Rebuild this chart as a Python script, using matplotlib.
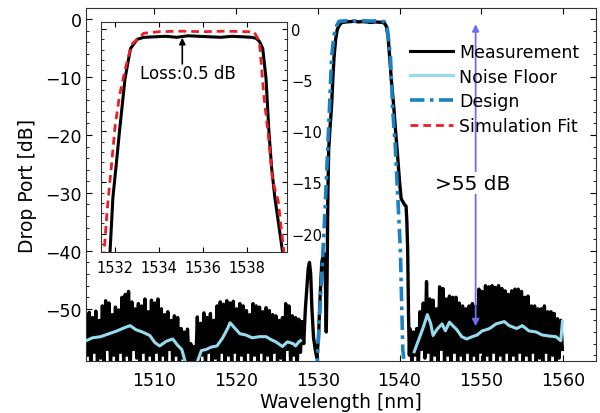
import numpy as np
import matplotlib
matplotlib.use("Agg")
import matplotlib.pyplot as plt
from matplotlib.ticker import MultipleLocator

# ---- main panel data ----
# noisy measurement, left side (sampled every 0.2 nm from 1501.7 nm)
meas_left_start = 1501.7
meas_left_db = [
    -51.0, -58.0, -50.6, -60.5, -51.5, -57.5, -50.4, -59.5, -52.0, -58.5,
    -49.5, -59.0, -48.6, -57.0, -49.0, -60.0, -51.0, -58.0, -49.7, -61.0,
    -50.2, -57.5, -48.0, -59.0, -47.5, -58.0, -47.0, -60.5, -48.8, -57.0,
    -50.0, -58.5, -49.1, -61.0, -49.5, -57.5, -48.3, -59.5, -50.5, -58.0,
    -48.5, -60.0, -49.0, -57.5, -48.3, -59.0, -50.0, -58.0, -51.0, -60.5,
    -50.5, -57.0, -52.0, -59.5, -51.2, -58.0, -51.5, -60.0, -53.4, -58.5,
    -54.0, -60.5, -53.5, -59.0, -56.0, -61.0, -56.5, -60.0, -51.4, -59.5,
    -52.5, -58.0, -50.7, -60.0, -51.5, -57.5, -50.8, -59.0, -52.0, -58.5,
    -49.5, -60.5, -48.8, -57.5, -49.2, -59.0, -48.6, -58.0, -49.0, -60.0,
    -48.7, -57.5, -50.0, -59.5, -49.1, -58.0, -49.5, -60.5, -50.3, -57.5,
    -51.0, -59.0, -49.1, -58.0, -49.5, -60.0, -49.7, -57.5, -50.5, -59.5,
    -49.8, -58.0, -50.3, -60.5, -51.0, -57.5, -51.2, -59.0, -52.0, -58.5,
    -51.5, -60.0, -49.1, -57.0, -49.5, -59.5, -51.2, -58.0, -51.5, -60.0,
    -51.8, -57.5, -52.2, -56.0,
]
# spike + passband of the measurement
meas_mid_wl = [1528.5, 1528.7, 1528.85, 1529.0, 1529.15, 1529.3, 1529.5, 1529.7,
               1529.9, 1530.1, 1530.3, 1530.5, 1530.65, 1530.8, 1530.95, 1531.05,
               1531.15, 1531.25, 1531.35, 1531.5, 1531.7, 1531.85, 1532.0, 1532.2,
               1532.4, 1532.6, 1532.8, 1533.0, 1533.5, 1534.0, 1534.5, 1535.0,
               1535.5, 1536.0, 1536.5, 1537.0, 1537.5, 1538.0, 1538.2, 1538.4,
               1538.6, 1538.8, 1539.0, 1539.3, 1539.5, 1539.75, 1540.0, 1540.2,
               1540.4, 1540.6, 1540.8, 1540.9, 1541.0, 1541.1, 1541.2]
meas_mid_db = [-50.0, -46.0, -43.0, -42.0, -44.0, -50.0, -55.0, -57.0,
               -58.5, -55.0, -48.0, -42.0, -41.0, -40.5, -46.0, -54.0,
               -45.0, -30.0, -22.5, -19.0, -15.0, -10.5, -6.6, -3.5,
               -1.8, -1.2, -0.8, -0.6, -0.5, -0.45, -0.4, -0.5,
               -0.45, -0.5, -0.6, -0.5, -0.55, -0.6, -0.8, -1.3,
               -3.0, -6.6, -10.5, -15.2, -19.0, -23.3, -28.0, -31.0,
               -31.5, -32.0, -32.3, -35.0, -40.0, -51.0, -58.0]
# noisy measurement, right side (every 0.2 nm from 1541.3 nm)
meas_right_start = 1541.3
meas_right_db = [
    -53.5, -59.0, -54.0, -58.0, -53.4, -60.0, -50.5, -57.0, -49.0, -58.5,
    -45.3, -57.5, -48.3, -59.5, -48.5, -58.0, -50.0, -60.0, -46.2, -57.0,
    -46.5, -59.0, -48.3, -58.0, -47.8, -60.5, -48.0, -57.5, -48.0, -59.0,
    -49.0, -58.0, -49.5, -60.0, -50.0, -57.5, -49.5, -59.5, -49.1, -58.0,
    -49.5, -60.5, -46.6, -57.5, -47.0, -59.0, -46.0, -58.0, -46.2, -60.0,
    -46.0, -57.5, -46.3, -59.5, -46.0, -58.0, -46.5, -60.5, -46.9, -57.5,
    -47.5, -59.0, -46.9, -58.0, -46.6, -60.0, -46.6, -57.5, -47.0, -59.5,
    -48.0, -58.0, -47.8, -60.5, -49.5, -57.5, -49.5, -59.0, -50.0, -58.5,
    -50.0, -60.0, -49.5, -57.5, -50.5, -59.5, -50.5, -58.0, -50.8, -60.0,
    -51.7, -58.5, -52.0, -57.0,
]
sample_step = 0.2

nf_left_wl = [1501.7, 1502.5, 1503.5, 1504.5, 1505.5, 1506.5, 1507.1, 1507.8, 1508.6,
              1509.5, 1510.1, 1510.7, 1511.5, 1512.3, 1512.9, 1513.4, 1513.9, 1514.5,
              1515.2, 1515.8, 1516.4, 1517.0, 1517.7, 1518.4, 1519.0, 1519.3, 1519.8,
              1520.5, 1521.2, 1522.0, 1522.9, 1523.7, 1524.3, 1524.9, 1525.7, 1526.3,
              1527.0, 1527.3, 1527.7, 1527.9]
nf_left_db = [-55.5, -55.0, -54.8, -54.3, -53.8, -53.2, -52.9, -53.6, -54.0,
              -54.6, -55.8, -56.4, -55.6, -55.2, -56.3, -57.0, -59.5, -62.0,
              -59.5, -57.2, -57.0, -56.6, -56.4, -55.0, -53.4, -52.4, -53.2,
              -54.3, -54.5, -55.0, -54.8, -54.8, -55.3, -55.7, -56.5, -55.7,
              -56.0, -56.4, -55.7, -55.5]
nf_right_wl = [1541.8, 1542.3, 1542.9, 1543.4, 1543.8, 1544.1, 1544.6, 1545.2, 1545.6,
               1546.1, 1546.5, 1547.0, 1547.6, 1548.2, 1548.9, 1549.5, 1550.1, 1550.6,
               1551.0, 1551.8, 1552.8, 1553.4, 1554.3, 1555.0, 1555.8, 1556.7, 1557.4,
               1558.3, 1559.1, 1559.7, 1559.9]
nf_right_db = [-57.4, -55.5, -53.2, -51.0, -52.5, -54.6, -53.5, -52.6, -53.8,
               -52.3, -52.9, -53.6, -54.8, -55.2, -54.8, -54.5, -53.8, -53.6,
               -53.4, -52.6, -52.2, -52.9, -53.4, -52.9, -53.8, -54.0, -54.5,
               -54.7, -54.8, -55.5, -52.2]

design_wl = [1529.9, 1530.2, 1530.6, 1530.9, 1531.2, 1531.45, 1531.7, 1532.0, 1532.3,
             1532.6, 1533.5, 1534.5, 1535.5, 1536.5, 1537.5, 1538.2, 1538.5, 1538.9,
             1539.15, 1539.5, 1539.8, 1540.1, 1540.4, 1540.7]
design_db = [-61.0, -52.0, -41.4, -33.0, -23.3, -15.2, -6.6, -2.8, -1.2,
             -0.4, -0.3, -0.35, -0.3, -0.35, -0.3, -0.5, -1.4, -6.6,
             -15.2, -22.4, -31.0, -39.7, -57.0, -61.0]

# ---- inset data ----
inset_meas_wl = [1531.7, 1531.77, 1531.9, 1532.05, 1532.2, 1532.45, 1532.7, 1533.0, 1533.3,
                 1533.8, 1534.3, 1534.8, 1535.3, 1535.8, 1536.3, 1536.8, 1537.3, 1537.8,
                 1538.2, 1538.4, 1538.55, 1538.7, 1538.85, 1538.98, 1539.1, 1539.25,
                 1539.45, 1539.6, 1539.7]
inset_meas_db = [-25.0, -21.8, -16.5, -13.3, -10.0, -4.85, -1.9, -1.0, -0.8,
                 -0.75, -0.7, -0.8, -0.65, -0.7, -0.75, -0.8, -0.7, -0.75,
                 -0.8, -0.9, -1.2, -1.9, -4.85, -10.0, -13.5, -16.5,
                 -19.5, -21.8, -24.0]
inset_fit_wl = [1531.4, 1531.5, 1531.65, 1531.85, 1532.0, 1532.2, 1532.45, 1532.75, 1533.0,
                1533.3, 1534.0, 1535.0, 1536.0, 1537.0, 1538.0, 1538.3, 1538.55, 1538.75,
                1538.95, 1539.15, 1539.4, 1539.66, 1539.75]
inset_fit_db = [-25.0, -21.8, -17.5, -13.0, -9.5, -6.5, -4.0, -1.5, -1.0,
                -0.4, -0.25, -0.2, -0.25, -0.2, -0.25, -0.25, -1.2, -6.5,
                -10.3, -14.8, -16.8, -21.8, -24.0]

labels = ["Measurement", "Noise Floor", "Design", "Simulation Fit"]

meas_color = "black"
nf_color = "#96dcf0"
design_color = "#1a82c4"
fit_color = "#ee1c24"
arrow_color = "#6e6ef5"

plt.rcParams["font.family"] = "DejaVu Sans"

fig = plt.figure(figsize=(6.0, 4.14), dpi=100)
ax = fig.add_axes([0.1433, 0.1256, 0.85, 0.8527])

left_wl = meas_left_start + sample_step * np.arange(len(meas_left_db))
right_wl = meas_right_start + sample_step * np.arange(len(meas_right_db))
wl_all = np.concatenate([left_wl, meas_mid_wl, right_wl])
db_all = np.concatenate([meas_left_db, meas_mid_db, meas_right_db])

ax.plot(wl_all, db_all, color=meas_color, lw=2.4, label=labels[0], zorder=2)
ax.plot(nf_left_wl, nf_left_db, color=nf_color, lw=2.2, label=labels[1], zorder=3)
ax.plot(nf_right_wl, nf_right_db, color=nf_color, lw=2.2, zorder=3)
ax.plot(design_wl, design_db, color=design_color, lw=2.6, dashes=(4, 1.5, 1, 1.5),
        label=labels[2], zorder=4)
ax.plot([], [], color=fit_color, lw=2, dashes=(2.8, 1.8), label=labels[3])

ax.set_xlim(1501.7, 1564)
ax.set_ylim(-59, 1.9)
ax.set_xticks([1510, 1520, 1530, 1540, 1550, 1560])
ax.set_yticks([0, -10, -20, -30, -40, -50])
ax.yaxis.set_minor_locator(MultipleLocator(2))
ax.tick_params(which="both", direction="in", top=True, right=True, labelsize=12.5)
ax.tick_params(which="major", length=4)
ax.tick_params(which="minor", length=2.5)
ax.tick_params(axis="x", pad=7)
ax.tick_params(axis="y", pad=3)
for s in ax.spines.values():
    s.set_color("#333333")
ax.set_xlabel("Wavelength [nm]", fontsize=13.5, labelpad=2)
ax.set_ylabel("Drop Port [dB]", fontsize=13.5, labelpad=6)

leg = ax.legend(loc="upper left", bbox_to_anchor=(0.635, 0.902), frameon=False,
                fontsize=12.5, handlelength=2.5, handletextpad=0.35,
                labelspacing=0.4, borderpad=0, borderaxespad=0)
for line in leg.get_lines():
    if line.get_label() == "Measurement":
        line.set_linewidth(2.2)

ax.annotate("", xy=(1549.3, -0.9), xytext=(1549.3, -53),
            arrowprops=dict(arrowstyle="<|-|>", color=arrow_color, lw=1.3,
                            mutation_scale=10, shrinkA=0, shrinkB=0), zorder=5)
ax.text(1548.9, -28.3, ">55 dB", fontsize=14.5, ha="center", va="center",
        bbox=dict(facecolor="white", edgecolor="none", pad=1), zorder=6)

# ---- inset ----
ins = fig.add_axes([0.1683, 0.3889, 0.31, 0.5556])
ins.plot(inset_meas_wl, inset_meas_db, color=meas_color, lw=2.2)
ins.plot(inset_fit_wl, inset_fit_db, color=fit_color, lw=2, dashes=(2.8, 1.8))
ins.set_xlim(1531.36, 1539.8)
ins.set_ylim(-21.8, 0.7)
ins.set_xticks([1532, 1534, 1536, 1538])
ins.set_yticks([0, -5, -10, -15, -20])
ins.yaxis.set_minor_locator(MultipleLocator(1))
ins.yaxis.tick_right()
ins.tick_params(which="both", direction="in", top=True, left=True, right=True,
                labelsize=10.5)
ins.tick_params(which="major", length=3.5)
ins.tick_params(which="minor", length=2)
ins.tick_params(axis="x", pad=6)
ins.tick_params(axis="y", pad=3)
for s in ins.spines.values():
    s.set_color("#333333")
ins.annotate("", xy=(1535.05, -0.85), xytext=(1535.05, -3.4),
             arrowprops=dict(arrowstyle="-|>", color="black", lw=1.2,
                             mutation_scale=9, shrinkA=0, shrinkB=0))
ins.text(1533.15, -4.3, "Loss:0.5 dB", fontsize=12, ha="left", va="center")

fig.savefig("out.png", dpi=100)
